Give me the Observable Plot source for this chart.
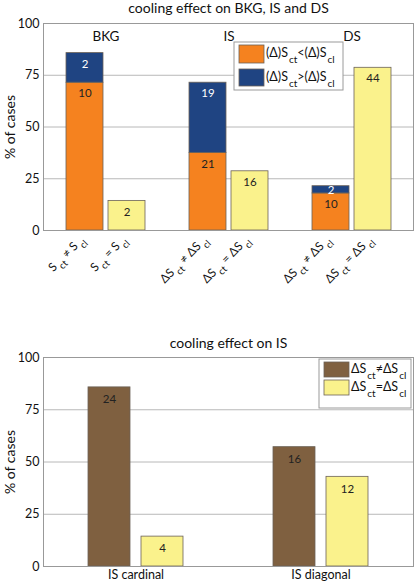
<!DOCTYPE html>
<html>
<head>
<meta charset="utf-8">
<script src="https://cdn.jsdelivr.net/npm/d3@7"></script>
<script src="https://cdn.jsdelivr.net/npm/@observablehq/plot@0.6"></script>
<style>
  body { margin: 0; background: #fff; }
  #chart svg { display: block; }
</style>
</head>
<body>
<div id="chart"></div>
<script>
// ---------- data: top chart ----------
const topTitle = "cooling effect on BKG, IS and DS";
const topGroups = ["BKG", "IS", "DS"];
const ltCounts = [10, 21, 10];          // (Δ)S_ct < (Δ)S_cl
const ltPct = [71.4, 37.5, 17.9];
const gtCounts = [2, 19, 2];            // (Δ)S_ct > (Δ)S_cl
const gtPct = [14.3, 33.9, 3.5];
const eqCounts = [2, 16, 44];           // S_ct = S_cl
const eqPct = [14.3, 28.6, 78.6];
const neqTickLabels = ["S_{ct} ≠ S_{cl}", "ΔS_{ct} ≠ ΔS_{cl}", "ΔS_{ct} ≠ ΔS_{cl}"];
const eqTickLabels = ["S_{ct} = S_{cl}", "ΔS_{ct} = ΔS_{cl}", "ΔS_{ct} = ΔS_{cl}"];
const topLegend = ["(Δ)S_{ct}<(Δ)S_{cl}", "(Δ)S_{ct}>(Δ)S_{cl}"];

// ---------- data: bottom chart ----------
const bottomTitle = "cooling effect on IS";
const isGroups = ["IS cardinal", "IS diagonal"];
const isNeqCounts = [24, 16];
const isNeqPct = [85.7, 57.1];
const isEqCounts = [4, 12];
const isEqPct = [14.3, 42.9];
const bottomLegend = ["ΔS_{ct}≠ΔS_{cl}", "ΔS_{ct}=ΔS_{cl}"];

const yTicks = [0, 25, 50, 75, 100];
const yLabel = "% of cases";

// ---------- styles ----------
const FONT = "Lato, 'DejaVu Sans', sans-serif";
const C_ORANGE = "#F5821F", C_BLUE = "#1F4482", C_YELLOW = "#FAF28C", C_BROWN = "#7F6040";
const EDGE = "#6b6258", GRID = "#b8b8b8", FRAME = "#999";

// ---------- helpers ----------
const NS = "http://www.w3.org/2000/svg";
function richify(root, shift, gap) {
  root.querySelectorAll("text").forEach(t => {
    const targets = t.querySelector("tspan") ? [...t.querySelectorAll("tspan")] : [t];
    for (const el of targets) {
      const s = el.textContent;
      if (!s.includes("_{")) continue;
      el.textContent = "";
      const parts = s.split(/(_\{[^}]*\})/).filter(p => p);
      let down = false;
      for (const p of parts) {
        const ts = document.createElementNS(NS, "tspan");
        if (p.startsWith("_{")) {
          ts.textContent = p.slice(2, -1);
          ts.setAttribute("font-size", "0.8em");
          ts.setAttribute("dx", gap);
          if (!down) { ts.setAttribute("dy", shift); down = true; }
        } else {
          ts.textContent = p;
          if (down) { ts.setAttribute("dy", -shift); down = false; }
        }
        el.appendChild(ts);
      }
    }
  });
}
function addLegend(svg, box, sw, items, colors, textX) {
  const g = d3.select(svg).append("g").attr("text-anchor", "start");
  g.append("rect").attr("x", box[0]).attr("y", box[1]).attr("width", box[2]).attr("height", box[3])
    .attr("fill", "#fff").attr("stroke", "#9a9a9a").attr("stroke-width", 1);
  items.forEach((label, i) => {
    const s = sw[i];
    g.append("rect").attr("x", s[0]).attr("y", s[1]).attr("width", s[2]).attr("height", s[3])
      .attr("fill", colors[i]).attr("stroke", EDGE).attr("stroke-width", 0.8);
    g.append("text").attr("x", textX).attr("y", s[1] + s[3] / 2 + 3)
      .attr("text-anchor", "start")
      .attr("font-family", FONT).attr("font-size", 12.5).attr("fill", "#111").text(label);
  });
  richify(g.node(), 6, 1);
}

// ---------- top chart ----------
const neqRows = [];
topGroups.forEach((g, i) => {
  neqRows.push({group: g, series: "lt", y1: 0, y2: ltPct[i], count: ltCounts[i]});
  neqRows.push({group: g, series: "gt", y1: ltPct[i], y2: ltPct[i] + gtPct[i], count: gtCounts[i]});
});
const eqRows = topGroups.map((g, i) => ({group: g, series: "eq", y1: 0, y2: eqPct[i], count: eqCounts[i]}));
const labelY = d => d.y2 - Math.min(5.3, (d.y2 - d.y1) / 2);

const colorScale = {domain: ["lt", "gt", "eq", "neq"], range: [C_ORANGE, C_BLUE, C_YELLOW, C_BROWN]};

const topChart = Plot.plot({
  width: 415, height: 300,
  marginLeft: 43, marginRight: 2, marginTop: 23, marginBottom: 70,
  style: {fontFamily: FONT, fontSize: "12px", background: "#fff", color: "#111"},
  x: {domain: topGroups, padding: 0, axis: null},
  y: {domain: [0, 100]},
  color: colorScale,
  marks: [
    Plot.ruleY(yTicks, {stroke: GRID, strokeWidth: 1}),
    Plot.rectY(neqRows, {x: "group", y1: "y1", y2: "y2", fill: "series", dx: -21, insetLeft: 43, insetRight: 43, stroke: EDGE, strokeWidth: 0.8}),
    Plot.rectY(eqRows, {x: "group", y1: "y1", y2: "y2", fill: "series", dx: 21, insetLeft: 43, insetRight: 43, stroke: EDGE, strokeWidth: 0.8}),
    Plot.text(neqRows, {x: "group", y: labelY, text: d => String(d.count), dx: -21, fontSize: 11.5, fill: d => d.series === "gt" ? "#fff" : "#222"}),
    Plot.text(eqRows, {x: "group", y: labelY, text: d => String(d.count), dx: 21, fontSize: 11.5, fill: "#222"}),
    Plot.text(topGroups, {x: d => d, frameAnchor: "top", lineAnchor: "middle", dy: 13, fontSize: 13.5, fill: "#111"}),
    Plot.text(neqTickLabels, {x: (d, i) => topGroups[i], frameAnchor: "bottom", dx: -21, dy: 10, rotate: -45, textAnchor: "end", lineAnchor: "bottom", fontSize: 12, fill: "#111"}),
    Plot.text(eqTickLabels, {x: (d, i) => topGroups[i], frameAnchor: "bottom", dx: 21, dy: 10, rotate: -45, textAnchor: "end", lineAnchor: "bottom", fontSize: 12, fill: "#111"}),
    Plot.text([topTitle], {frameAnchor: "top", lineAnchor: "middle", dy: -15, fontSize: 14, fill: "#111"}),
    Plot.text([yLabel], {frameAnchor: "left", textAnchor: "middle", lineAnchor: "middle", dx: -33, rotate: -90, fontSize: 14, fill: "#111"}),
    Plot.axisY({ticks: yTicks, tickSize: 0, tickPadding: 4, fontSize: 12.5, label: null}),
    Plot.frame({stroke: FRAME, strokeWidth: 1})
  ]
});
richify(topChart, 5, 2);
addLegend(topChart, [234, 42, 109, 48], [[239, 45, 25, 18], [239, 69, 25, 17]], topLegend, [C_ORANGE, C_BLUE], 266);

// ---------- bottom chart ----------
const bNeq = isGroups.map((g, i) => ({group: g, series: "neq", y1: 0, y2: isNeqPct[i], count: isNeqCounts[i]}));
const bEq = isGroups.map((g, i) => ({group: g, series: "eq", y1: 0, y2: isEqPct[i], count: isEqCounts[i]}));

const bottomChart = Plot.plot({
  width: 415, height: 285,
  marginLeft: 43, marginRight: 2, marginTop: 57, marginBottom: 19,
  style: {fontFamily: FONT, fontSize: "12px", background: "#fff", color: "#111"},
  x: {domain: isGroups, padding: 0},
  y: {domain: [0, 100]},
  color: colorScale,
  marks: [
    Plot.ruleY(yTicks, {stroke: GRID, strokeWidth: 1}),
    Plot.rectY(bNeq, {x: "group", y1: "y1", y2: "y2", fill: "series", dx: -26.5, insetLeft: 71.5, insetRight: 71.5, stroke: EDGE, strokeWidth: 0.8}),
    Plot.rectY(bEq, {x: "group", y1: "y1", y2: "y2", fill: "series", dx: 26.5, insetLeft: 71.5, insetRight: 71.5, stroke: EDGE, strokeWidth: 0.8}),
    Plot.text(bNeq, {x: "group", y: d => d.y2, text: d => String(d.count), dx: -26.5, dy: 12, fontSize: 11.5, fill: "#222"}),
    Plot.text(bEq, {x: "group", y: d => d.y2, text: d => String(d.count), dx: 26.5, dy: 12, fontSize: 11.5, fill: "#222"}),
    Plot.text([bottomTitle], {frameAnchor: "top", lineAnchor: "middle", dy: -14, fontSize: 14, fill: "#111"}),
    Plot.text([yLabel], {frameAnchor: "left", textAnchor: "middle", lineAnchor: "middle", dx: -33, rotate: -90, fontSize: 14, fill: "#111"}),
    Plot.axisX({tickSize: 0, tickPadding: 4, fontSize: 12.5, label: null}),
    Plot.axisY({ticks: yTicks, tickSize: 0, tickPadding: 4, fontSize: 12.5, label: null}),
    Plot.frame({stroke: FRAME, strokeWidth: 1})
  ]
});
addLegend(bottomChart, [319, 59, 92, 49], [[324, 62, 25, 15], [324, 80, 25, 15]], bottomLegend, [C_BROWN, C_YELLOW], 351);

document.getElementById("chart").append(topChart, bottomChart);
</script>
</body>
</html>
